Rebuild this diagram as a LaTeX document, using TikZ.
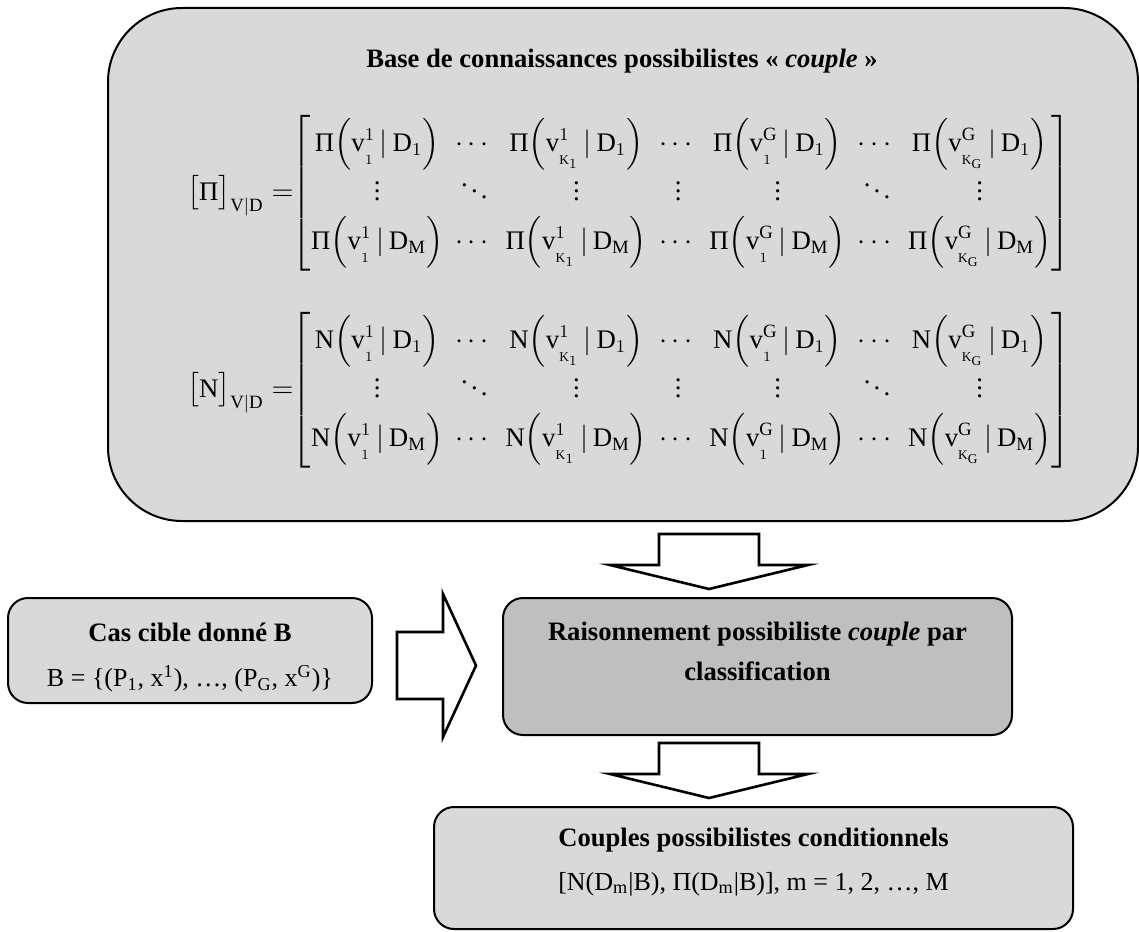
\documentclass[tikz,border=0pt]{standalone}
\usepackage{amsmath}
\usepackage{fontspec}
\setmainfont{Liberation Serif}
\usetikzlibrary{positioning}
\newcommand{\cellpd}[4]{#1\Bigl(\mathrm{v}^{#2}_{\lower3pt\hbox{$\scriptscriptstyle #3$}}\,|\,\mathrm{D}_{#4}\Bigr)}
\setlength{\arraycolsep}{3pt}

\begin{document}
\begin{tikzpicture}[x=0.5pt,y=-0.5pt, line join=round,
    boite/.style={draw,line width=1pt,fill=black!15,rounded corners=10pt,inner sep=0pt},
    titre/.style={font=\fontsize{13.3}{20}\selectfont\bfseries},
    texte/.style={font=\fontsize{13}{16}\selectfont},
    matrice/.style={anchor=west,font=\fontsize{13.4}{16}\selectfont},
    fleche/.style={draw,line width=1.3pt,fill=white,line join=miter}]
    \useasboundingbox (0,0) rectangle (1139,931);

    % base de connaissances
    \node[boite,rounded corners=37pt,minimum width=515pt,minimum height=256.5pt] (base) at (623,264.5) {};
    \node[titre] (titrebase) at (622,61) {Base de connaissances possibilistes «~\textit{couple}~»};
    \node[matrice] (mpi) at (180,193) {$\bigl[\text{Π}\bigr]_{\mathrm{V|D}} =\!\!\begin{bmatrix}
        \cellpd{\text{Π}}{1}{1}{1} & \cdots & \cellpd{\text{Π}}{1}{\mathrm{K}_1}{1} & \cdots & \cellpd{\text{Π}}{\mathrm{G}}{1}{1} & \cdots & \cellpd{\text{Π}}{\mathrm{G}}{\mathrm{K}_\mathrm{G}}{1} \\[3pt]
        \vdots & \ddots & \vdots & \vdots & \vdots & \ddots & \vdots \\[3pt]
        \cellpd{\text{Π}}{1}{1}{\mathrm{M}} & \cdots & \cellpd{\text{Π}}{1}{\mathrm{K}_1}{\mathrm{M}} & \cdots & \cellpd{\text{Π}}{\mathrm{G}}{1}{\mathrm{M}} & \cdots & \cellpd{\text{Π}}{\mathrm{G}}{\mathrm{K}_\mathrm{G}}{\mathrm{M}}
        \end{bmatrix}$};
    \node[matrice] (mn) at (180,390) {$\bigl[\mathrm{N}\bigr]_{\mathrm{V|D}} =\!\!\begin{bmatrix}
        \cellpd{\mathrm{N}}{1}{1}{1} & \cdots & \cellpd{\mathrm{N}}{1}{\mathrm{K}_1}{1} & \cdots & \cellpd{\mathrm{N}}{\mathrm{G}}{1}{1} & \cdots & \cellpd{\mathrm{N}}{\mathrm{G}}{\mathrm{K}_\mathrm{G}}{1} \\[3pt]
        \vdots & \ddots & \vdots & \vdots & \vdots & \ddots & \vdots \\[3pt]
        \cellpd{\mathrm{N}}{1}{1}{\mathrm{M}} & \cdots & \cellpd{\mathrm{N}}{1}{\mathrm{K}_1}{\mathrm{M}} & \cdots & \cellpd{\mathrm{N}}{\mathrm{G}}{1}{\mathrm{M}} & \cdots & \cellpd{\mathrm{N}}{\mathrm{G}}{\mathrm{K}_\mathrm{G}}{\mathrm{M}}
        \end{bmatrix}$};

    % cas cible
    \node[boite,minimum width=182pt,minimum height=52.5pt] (cas) at (190,650.5) {};
    \node[titre] (titrecas) at (190,632) {Cas cible donné B};
    \node[texte] (casb) at (190,679) {B = \{(P\textsubscript{1}, x\textsuperscript{1}), …, (P\textsubscript{G}, x\textsuperscript{G})\}};

    % raisonnement
    \node[boite,fill=black!25,minimum width=254.5pt,minimum height=68.5pt] (rais) at (757.5,666.5) {};
    \node[titre,align=center] (titrerais) at (757.5,651) {Raisonnement possibiliste \textit{couple} par\\ classification};

    % couples
    \node[boite,minimum width=319.5pt,minimum height=61pt] (coup) at (753.5,868) {};
    \node[titre] (titrecoup) at (753.5,840) {Couples possibilistes conditionnels};
    \node[texte] (coupform) at (753.5,884) {[N(D\textsubscript{m}|B), Π(D\textsubscript{m}|B)], m = 1, 2, …, M};

    % fleches
    \coordinate (f1) at (709,534);
    \coordinate (f2) at (709,743);
    \coordinate (f3) at (397,632);
    \draw[fleche] (f1) ++(-50,0) -- ++(100,0) -- ++(0,31) -- ++(49,0) -- ++(-99,24) -- ++(-99,-24) -- ++(49,0) -- cycle;
    \draw[fleche] (f2) ++(-50,0) -- ++(100,0) -- ++(0,31) -- ++(49,0) -- ++(-99,24) -- ++(-99,-24) -- ++(49,0) -- cycle;
    \draw[fleche] (f3) -- ++(46,0) -- ++(0,-38) -- ++(33,71.5) -- ++(-33,71.5) -- ++(0,-38) -- ++(-46,0) -- cycle;
\end{tikzpicture}
\end{document}
